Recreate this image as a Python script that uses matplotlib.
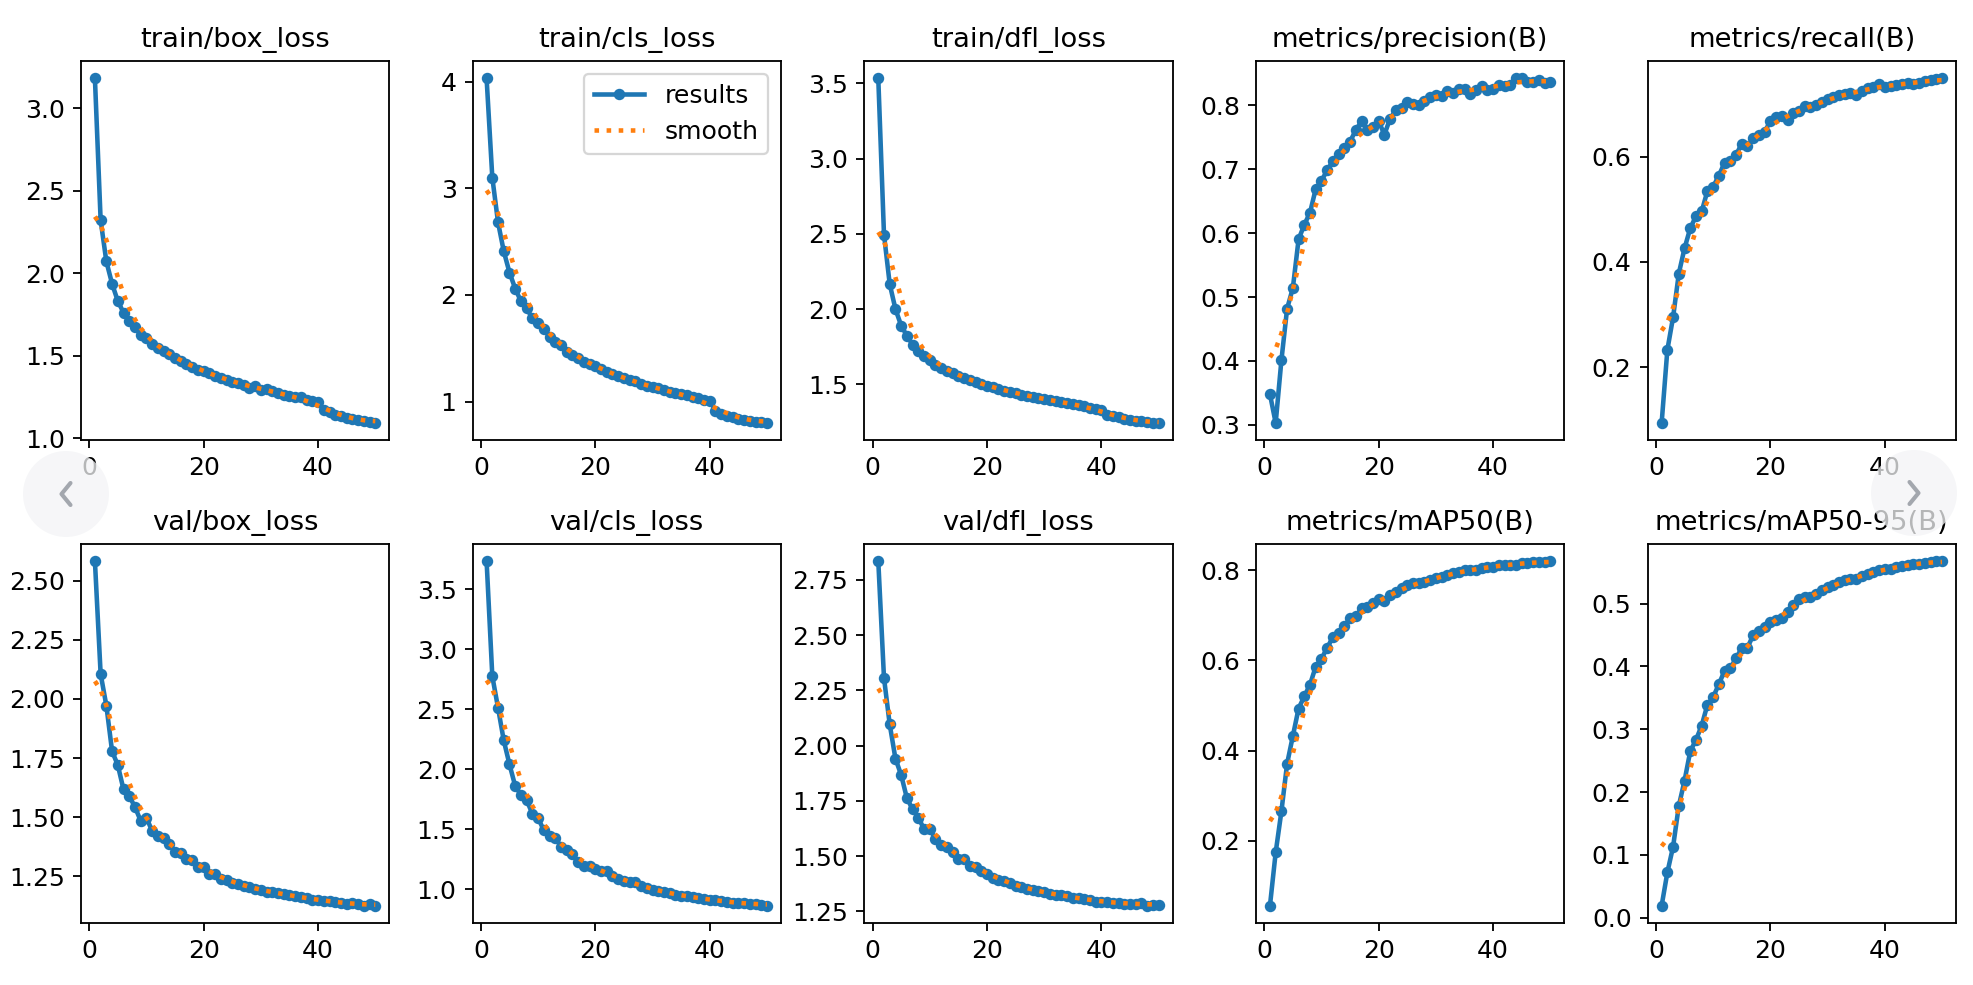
import numpy as np
import matplotlib
matplotlib.use("Agg")
import matplotlib.pyplot as plt
from matplotlib.patches import Ellipse
from matplotlib.lines import Line2D

plt.rcParams["font.size"] = 11

epochs = list(range(1, 51))

titles = ["train/box_loss", "train/cls_loss", "train/dfl_loss", "metrics/precision(B)", "metrics/recall(B)",
          "val/box_loss", "val/cls_loss", "val/dfl_loss", "metrics/mAP50(B)", "metrics/mAP50-95(B)"]

train_box_loss = [3.18, 2.32, 2.07, 1.935, 1.83, 1.76, 1.71, 1.67, 1.625, 1.605,
                  1.572, 1.545, 1.525, 1.509, 1.485, 1.465, 1.449, 1.43, 1.414, 1.404,
                  1.394, 1.378, 1.364, 1.354, 1.337, 1.333, 1.323, 1.303, 1.313, 1.293,
                  1.297, 1.283, 1.27, 1.263, 1.257, 1.25, 1.25, 1.23, 1.222, 1.216,
                  1.168, 1.156, 1.141, 1.131, 1.121, 1.115, 1.107, 1.101, 1.097, 1.091]
train_cls_loss = [4.03, 3.10, 2.68, 2.41, 2.21, 2.06, 1.94, 1.875, 1.78, 1.735,
                  1.68, 1.61, 1.56, 1.53, 1.47, 1.44, 1.41, 1.375, 1.355, 1.33,
                  1.305, 1.28, 1.26, 1.24, 1.22, 1.20, 1.19, 1.165, 1.145, 1.135,
                  1.125, 1.11, 1.09, 1.08, 1.07, 1.06, 1.045, 1.03, 1.02, 1.01,
                  0.915, 0.885, 0.87, 0.855, 0.84, 0.83, 0.82, 0.81, 0.805, 0.80]
train_dfl_loss = [3.533, 2.494, 2.166, 2.0, 1.89, 1.823, 1.763, 1.719, 1.686, 1.66,
                  1.63, 1.61, 1.586, 1.575, 1.558, 1.542, 1.527, 1.513, 1.502, 1.491,
                  1.48, 1.469, 1.458, 1.451, 1.442, 1.431, 1.425, 1.416, 1.409, 1.403,
                  1.394, 1.387, 1.381, 1.376, 1.37, 1.365, 1.354, 1.343, 1.338, 1.332,
                  1.299, 1.288, 1.281, 1.27, 1.261, 1.259, 1.254, 1.248, 1.243, 1.243]
precision = [0.348, 0.303, 0.401, 0.482, 0.514, 0.59, 0.613, 0.632, 0.669, 0.682,
             0.698, 0.713, 0.723, 0.733, 0.743, 0.761, 0.775, 0.761, 0.766, 0.775,
             0.754, 0.779, 0.792, 0.796, 0.805, 0.802, 0.80, 0.807, 0.812, 0.816,
             0.814, 0.822, 0.819, 0.825, 0.826, 0.817, 0.824, 0.83, 0.824, 0.826,
             0.832, 0.83, 0.832, 0.842, 0.842, 0.837, 0.837, 0.84, 0.835, 0.837]
recall = [0.094, 0.233, 0.295, 0.378, 0.426, 0.464, 0.487, 0.496, 0.535, 0.543,
          0.564, 0.589, 0.591, 0.603, 0.625, 0.62, 0.635, 0.642, 0.647, 0.668,
          0.676, 0.677, 0.67, 0.684, 0.687, 0.696, 0.695, 0.698, 0.704, 0.709,
          0.713, 0.717, 0.72, 0.722, 0.718, 0.725, 0.73, 0.732, 0.738, 0.733,
          0.735, 0.736, 0.738, 0.74, 0.739, 0.74, 0.744, 0.746, 0.747, 0.749]
val_box_loss = [2.584, 2.106, 1.972, 1.779, 1.72, 1.617, 1.589, 1.543, 1.484, 1.498,
                1.441, 1.42, 1.41, 1.385, 1.354, 1.35, 1.322, 1.318, 1.289, 1.287,
                1.258, 1.258, 1.237, 1.234, 1.223, 1.216, 1.209, 1.205, 1.195, 1.191,
                1.185, 1.181, 1.177, 1.174, 1.17, 1.164, 1.163, 1.157, 1.149, 1.149,
                1.146, 1.146, 1.142, 1.136, 1.132, 1.135, 1.132, 1.125, 1.132, 1.125]
val_cls_loss = [3.735, 2.775, 2.512, 2.24, 2.041, 1.861, 1.786, 1.742, 1.631, 1.593,
                1.493, 1.446, 1.432, 1.354, 1.327, 1.293, 1.224, 1.197, 1.197, 1.169,
                1.155, 1.15, 1.113, 1.086, 1.066, 1.058, 1.058, 1.03, 1.008, 0.997,
                0.989, 0.975, 0.967, 0.956, 0.947, 0.942, 0.934, 0.925, 0.92, 0.914,
                0.911, 0.906, 0.898, 0.887, 0.884, 0.884, 0.878, 0.878, 0.873, 0.864]
val_dfl_loss = [2.836, 2.306, 2.096, 1.941, 1.867, 1.762, 1.712, 1.674, 1.622, 1.622,
                1.577, 1.551, 1.542, 1.517, 1.486, 1.486, 1.456, 1.449, 1.434, 1.419,
                1.401, 1.392, 1.386, 1.377, 1.366, 1.359, 1.351, 1.344, 1.341, 1.336,
                1.329, 1.324, 1.324, 1.317, 1.31, 1.31, 1.306, 1.301, 1.294, 1.291,
                1.294, 1.288, 1.288, 1.283, 1.283, 1.283, 1.286, 1.275, 1.28, 1.28]
map50 = [0.056, 0.174, 0.265, 0.371, 0.432, 0.493, 0.52, 0.546, 0.586, 0.603,
         0.628, 0.651, 0.66, 0.675, 0.693, 0.697, 0.715, 0.719, 0.726, 0.736,
         0.732, 0.745, 0.752, 0.761, 0.767, 0.771, 0.771, 0.774, 0.778, 0.782,
         0.785, 0.79, 0.793, 0.796, 0.799, 0.80, 0.801, 0.805, 0.807, 0.807,
         0.811, 0.811, 0.812, 0.812, 0.815, 0.816, 0.817, 0.818, 0.818, 0.82]
map50_95 = [0.019, 0.072, 0.113, 0.178, 0.218, 0.265, 0.283, 0.306, 0.339, 0.351,
            0.372, 0.393, 0.397, 0.413, 0.429, 0.43, 0.45, 0.456, 0.463, 0.471,
            0.474, 0.477, 0.486, 0.498, 0.507, 0.51, 0.511, 0.516, 0.522, 0.527,
            0.53, 0.534, 0.538, 0.54, 0.54, 0.544, 0.548, 0.551, 0.553, 0.556,
            0.556, 0.559, 0.56, 0.561, 0.563, 0.564, 0.565, 0.567, 0.568, 0.568]

series = [train_box_loss, train_cls_loss, train_dfl_loss, precision, recall,
          val_box_loss, val_cls_loss, val_dfl_loss, map50, map50_95]


def gaussian_smooth(y, sigma=3.0, truncate=4.0):
    """Same as scipy.ndimage.gaussian_filter1d (mode='reflect')."""
    y = np.asarray(y, dtype=float)
    r = int(truncate * sigma + 0.5)
    k = np.arange(-r, r + 1)
    w = np.exp(-0.5 * (k / sigma) ** 2)
    w /= w.sum()
    yp = np.concatenate([y[:r][::-1], y, y[-r:][::-1]])
    return np.convolve(yp, w, mode="valid")


W, H, DPI = 1973, 985, 164.4
fig, axes = plt.subplots(2, 5, figsize=(W / DPI, H / DPI), dpi=DPI)
fig.subplots_adjust(left=0.041, right=0.9914, top=0.938, bottom=0.063, wspace=0.27, hspace=0.273)
axes = axes.ravel()

x = np.array(epochs)
for i, (ax, y, t) in enumerate(zip(axes, series, titles)):
    ax.plot(x, y, marker=".", label="results", linewidth=2, markersize=8)
    ax.plot(x, gaussian_smooth(y), ":", label="smooth", linewidth=2)
    ax.set_title(t, fontsize=12)
    if i == 1:
        ax.legend()

# carousel navigation overlays
for cx, cy, d in [(66, 494, -1), (1914, 493, 1)]:
    r = 43
    e = Ellipse((cx / W, 1 - cy / H), 2 * r / W, 2 * r / H, transform=fig.transFigure,
                facecolor="#f3f4f6", edgecolor="none", alpha=0.75, zorder=10)
    fig.add_artist(e)
    hw, hh = 9, 11
    xs = [(cx - d * hw / 2) / W, (cx + d * hw / 2) / W, (cx - d * hw / 2) / W]
    ys = [1 - (cy - hh) / H, 1 - cy / H, 1 - (cy + hh) / H]
    fig.add_artist(Line2D(xs, ys, transform=fig.transFigure, color="#a3a7ae",
                          linewidth=1.8, solid_capstyle="round", solid_joinstyle="round", zorder=11))

fig.savefig("out.png", dpi=DPI)
